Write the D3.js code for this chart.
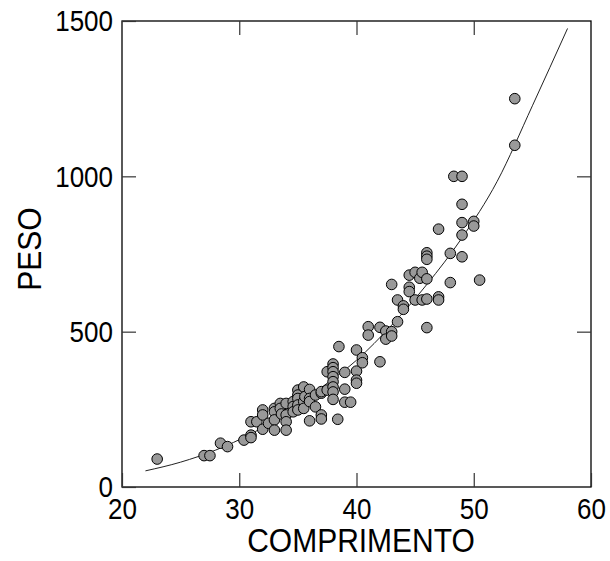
<!DOCTYPE html>
<html>
<head>
<meta charset="utf-8">
<script src="https://cdn.jsdelivr.net/npm/d3@7"></script>
<style>
  body { margin: 0; background: #fff; }
  svg text { font-family: Arial, 'Liberation Sans', sans-serif; fill: #000; }
</style>
</head>
<body>
<svg></svg>
<script>
// COMPRIMENTO values of the fish (x)
let comprimento = [
  23, 27, 27.5, 28.4, 29, 30.4, 31, 31, 31, 31.5,
  32, 32, 32, 32.5, 33, 33, 33, 33, 33.5, 33.5,
  33.6, 34, 34, 34, 34, 34.6, 34.6, 34.6, 35, 35,
  35, 35, 35, 35.5, 35.5, 35.5, 35.6, 36, 36, 36,
  36, 36.5, 36.5, 37, 37, 37, 37, 37.5, 37.5, 38,
  38, 38, 38, 38, 38, 38, 38, 38.4, 38.5, 39,
  39, 39, 39.5, 40, 40, 40, 40, 40.5, 40.5, 41,
  41, 42, 42, 42.5, 42.5, 43, 43, 43, 43.5, 43.5,
  44, 44, 44.5, 44.5, 44.5, 45, 45, 45.4, 45.6, 45.6,
  46, 46, 46, 46, 46, 46, 47, 47, 47, 48,
  48, 48.3, 49, 49, 49, 49, 49, 50, 50, 50.5,
  53.5, 53.5
]
// PESO values (y)
let peso = [
  90, 101, 101, 141, 130, 151, 167, 159, 210, 210,
  248, 232, 186, 205, 253, 242, 216, 183, 269, 253,
  235, 269, 232, 210, 183, 275, 259, 242, 312, 296,
  285, 264, 248, 322, 275, 253, 291, 314, 285, 275,
  213, 296, 258, 302, 307, 232, 219, 371, 312, 396,
  384, 371, 355, 339, 322, 306, 282, 218, 452, 369,
  315, 273, 273, 441, 373, 344, 334, 416, 400, 516,
  489, 514, 403, 502, 476, 500, 486, 652, 532, 602,
  583, 572, 682, 643, 629, 691, 602, 672, 691, 602,
  754, 743, 733, 670, 605, 513, 830, 612, 602, 752,
  658, 1000, 1000, 910, 851, 811, 741, 855, 840, 666,
  1100, 1250
]

// fitted curve
let curveX = [22, 25, 28, 31, 34, 37, 40, 43, 46, 49, 52, 55, 58]
let curveY = [52, 80, 119, 171, 237, 320, 408, 521, 652, 802, 984, 1227, 1476]

let xTicks = [20, 30, 40, 50, 60]
let yTicks = [0, 500, 1000, 1500]

let width = 610
let height = 561
let plotLeft = 122, plotRight = 591, plotTop = 21, plotBottom = 487
let stretch = 1.1   // the labels in the original are drawn a bit taller than wide

let svg = d3.select('svg')
svg.attr('width', width).attr('height', height)

let xScale = d3.scaleLinear().domain([20, 60]).range([plotLeft, plotRight])
let yScale = d3.scaleLinear().domain([0, 1500]).range([plotBottom, plotTop])

let points = comprimento.map((c, i) => ({ x: c, y: peso[i] }))
let curvePts = curveX.map((c, i) => ({ x: c, y: curveY[i] }))

// frame
svg.append('rect')
   .attr('x', plotLeft).attr('y', plotTop)
   .attr('width', plotRight - plotLeft).attr('height', plotBottom - plotTop)
   .attr('fill', 'none').attr('stroke', '#000').attr('stroke-width', 1.3)

// axes with inward ticks
let xAxis = d3.axisBottom(xScale).tickValues(xTicks).tickSize(-14).tickPadding(0).tickFormat(d3.format('d'))
let xTop = d3.axisTop(xScale).tickValues(xTicks.slice(1, -1)).tickSize(-14).tickFormat('')
let yAxis = d3.axisLeft(yScale).tickValues(yTicks).tickSize(-14).tickPadding(9).tickFormat(d3.format('d'))
let yRight = d3.axisRight(yScale).tickValues(yTicks.slice(1, -1)).tickSize(-14).tickFormat('')

let gx = svg.append('g').attr('transform', 'translate(0,' + plotBottom + ')').call(xAxis)
svg.append('g').attr('transform', 'translate(0,' + plotTop + ')').call(xTop)
let gy = svg.append('g').attr('transform', 'translate(' + plotLeft + ',0)').call(yAxis)
svg.append('g').attr('transform', 'translate(' + plotRight + ',0)').call(yRight)

svg.selectAll('.domain').remove()
svg.selectAll('.tick line').attr('stroke', '#333').attr('stroke-width', 1.2)
svg.selectAll('.tick text').attr('font-size', 26).attr('fill', '#000')
   .attr('transform', 'scale(1,' + stretch + ')')
gx.selectAll('.tick text').attr('y', 10).attr('dy', '0.72em')
gy.selectAll('.tick text').attr('dy', '0.34em')

// fitted curve
let line = d3.line()
   .x(d => xScale(d.x))
   .y(d => yScale(d.y))
   .curve(d3.curveMonotoneX)

svg.append('path')
   .datum(curvePts)
   .attr('d', line)
   .attr('fill', 'none')
   .attr('stroke', '#222')
   .attr('stroke-width', 1)

// scatter points
svg.selectAll('circle')
   .data(points)
   .enter()
   .append('circle')
   .attr('cx', d => xScale(d.x))
   .attr('cy', d => yScale(d.y))
   .attr('r', 5.3)
   .attr('fill', '#999')
   .attr('stroke', '#000')
   .attr('stroke-width', 1)

// axis titles
svg.append('text')
   .attr('transform', 'translate(361,552) scale(1,' + stretch + ')')
   .attr('text-anchor', 'middle')
   .attr('font-size', 30)
   .text('COMPRIMENTO')

svg.append('text')
   .attr('transform', 'translate(41,249) rotate(-90) scale(1,' + stretch + ')')
   .attr('text-anchor', 'middle')
   .attr('font-size', 30)
   .text('PESO')
</script>
</body>
</html>
